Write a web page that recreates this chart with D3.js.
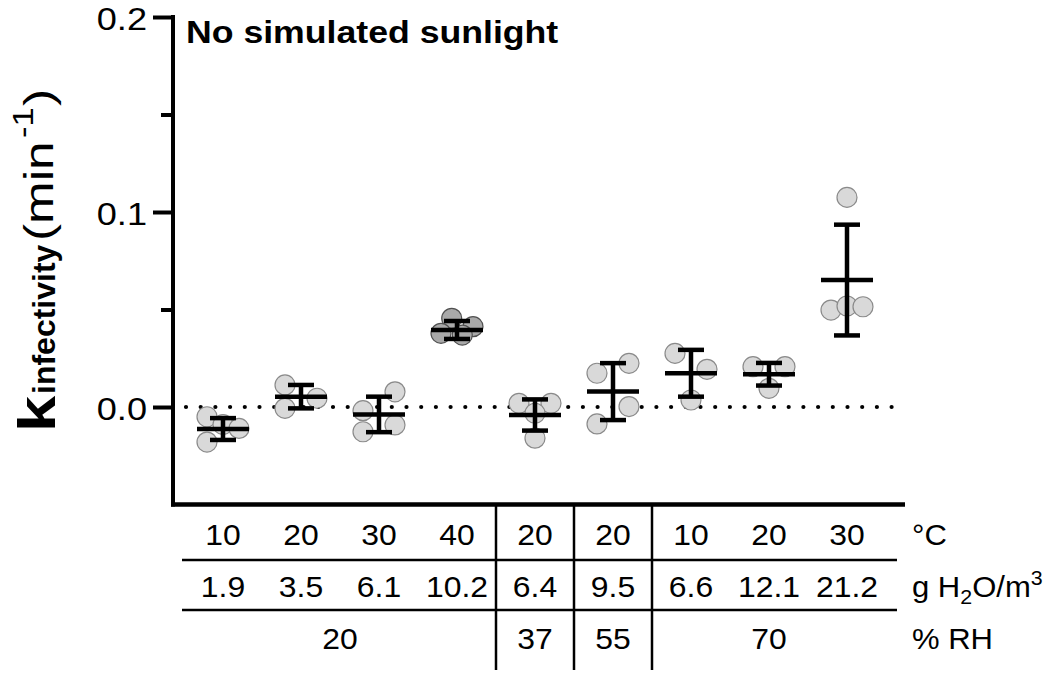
<!DOCTYPE html>
<html><head><meta charset="utf-8">
<script src="https://cdn.jsdelivr.net/npm/d3@7"></script>
<style>body{margin:0;background:#fff}</style>
</head><body>
<svg id="chart" width="1050" height="673"></svg>
<script>
// ---------- data ----------
const groupIds = [0,1,2,3,4,5,6,7,8];
const tempC      = ["10","20","30","40","20","20","10","20","30"];
const waterVapor = ["1.9","3.5","6.1","10.2","6.4","9.5","6.6","12.1","21.2"];
const rhLabels = ["20","37","55","70"];
const rhSpans  = [4,1,1,3];
// individual replicate rate constants (min^-1)
const replicateValues = [
  [-0.005,-0.009,-0.011,-0.018],
  [0.0113,0.0045,-0.0007],
  [0.0078,-0.0019,-0.0092,-0.0127],
  [0.0455,0.0412,0.0378,0.0369],
  [0.0019,0.0019,-0.0032,-0.016],
  [0.0224,0.0173,0.0002,-0.0087],
  [0.0275,0.0193,0.0036],
  [0.0207,0.0207,0.0096],
  [0.1075,0.0497,0.0518,0.0514]
];
// scatter column slot of each replicate (-1 left, 0 centre, 1 right)
const replicateSlots = [
  [-1,0,1,-1],
  [-1,1,-1],
  [1,-1,1,-1],
  [-0.33,1,-1,0.33],
  [-1,1,0,0],
  [1,-1,1,-1],
  [-1,1,0],
  [-1,1,0],
  [0,-1,0,1]
];
const groupMeans = [-0.0113,0.0053,-0.0038,0.0395,-0.0041,0.0079,0.0173,0.0168,0.0651];
const groupSD    = [0.0056,0.0060,0.0091,0.0046,0.0080,0.0146,0.0120,0.0058,0.0284];
const yMajorTicks = [0,0.1,0.2];
const yMinorTicks = [0.05,0.15];
const rowUnits = ["°C","g H2O/m3","% RH"];

// ---------- drawing ----------
const FONT = "'Liberation Sans', Arial, Helvetica, sans-serif";
const svg = d3.select("#chart").style("font-family", FONT);

// text helper: text placed at (x,y) and stretched horizontally by f
function label(parent, px, py, f, txt, opts = {}) {
  const t = parent.append("text")
    .attr("transform", `translate(${px},${py}) scale(${f},1)`)
    .attr("fill", "#000")
    .attr("font-size", opts.size || 28)
    .attr("font-weight", opts.weight || "normal")
    .attr("text-anchor", opts.anchor || "start");
  if (opts.dy) t.attr("dy", opts.dy);
  if (txt !== null) t.text(txt);
  return t;
}

const x = d3.scaleBand().domain(groupIds).range([184, 886]);
const y = d3.scaleLinear().domain([-0.05, 0.2]).range([504.5, 17]);
const cx = i => x(i) + x.bandwidth()/2;
const slotW = 16;

// zero reference line (dotted)
svg.append("line")
  .attr("x1", 186).attr("x2", 905)
  .attr("y1", y(0)).attr("y2", y(0))
  .attr("stroke", "#000").attr("stroke-width", 4.2)
  .attr("stroke-linecap", "round")
  .attr("stroke-dasharray", "0 14.7");

// replicate points
const pts = [];
replicateValues.forEach((vals, g) => vals.forEach((v, k) => pts.push({g, v, s: replicateSlots[g][k]})));
svg.append("g").selectAll("circle").data(pts).join("circle")
  .attr("cx", d => cx(d.g) + d.s * slotW)
  .attr("cy", d => y(d.v))
  .attr("r", 10)
  .attr("fill", d => d.g === 3 ? "#a9a9a9" : "#d9d9d9")
  .attr("stroke", d => d.g === 3 ? "#505050" : "#8a8a8a")
  .attr("stroke-width", 1.2);

// mean +/- SD
const eb = svg.append("g").attr("stroke", "#000").attr("stroke-width", 4.5);
groupIds.forEach(g => {
  const c = cx(g), m = groupMeans[g], s = groupSD[g];
  eb.append("line").attr("x1", c).attr("x2", c).attr("y1", y(m + s)).attr("y2", y(m - s));
  eb.append("line").attr("x1", c - 13).attr("x2", c + 13).attr("y1", y(m + s)).attr("y2", y(m + s));
  eb.append("line").attr("x1", c - 13).attr("x2", c + 13).attr("y1", y(m - s)).attr("y2", y(m - s));
  eb.append("line").attr("x1", c - 26).attr("x2", c + 26).attr("y1", y(m)).attr("y2", y(m));
});

// y axis
const axisX = 173;
const tickF = 1.13;
const ay = svg.append("g").attr("transform", `translate(${axisX},0)`)
  .call(d3.axisLeft(y).tickValues(yMajorTicks).tickSize(20).tickSizeOuter(0)
        .tickPadding(6).tickFormat(d3.format(".1f")));
ay.select(".domain").remove();
ay.selectAll(".tick line").attr("stroke", "#000").attr("stroke-width", 4);
ay.selectAll(".tick text").attr("font-size", 32).attr("font-family", FONT).attr("fill", "#000")
  .attr("x", -26 / tickF).attr("dy", "0.38em").attr("transform", `scale(${tickF},1)`);
const ayMinor = svg.append("g").attr("transform", `translate(${axisX},0)`)
  .call(d3.axisLeft(y).tickValues(yMinorTicks).tickSize(12).tickFormat(""));
ayMinor.select(".domain").remove();
ayMinor.selectAll(".tick line").attr("stroke", "#000").attr("stroke-width", 4);
svg.append("line").attr("x1", axisX).attr("x2", axisX).attr("y1", y(0.2) - 2).attr("y2", y(-0.05) + 2)
  .attr("stroke", "#000").attr("stroke-width", 4);
svg.append("line").attr("x1", axisX - 2).attr("x2", 905).attr("y1", y(-0.05)).attr("y2", y(-0.05))
  .attr("stroke", "#000").attr("stroke-width", 4.5);

// y label (rotated)
const yl = svg.append("g").attr("transform", `translate(55,428) rotate(-90)`);
label(yl, -4, 0, 1.25, "k", {size: 52, weight: "bold"});
label(yl, 34, 0, 1.0, "infectivity", {size: 32, weight: "bold"});
label(yl, 187, -2, 1.28, "(min", {size: 40});
label(yl, 290, -22, 1.15, "-1", {size: 30});
label(yl, 322, -2, 1.3, ")", {size: 40});

// title
label(svg, 186, 43, 1.15, "No simulated sunlight", {size: 31, weight: "bold"});

// condition table
const rowY = [535, 586.5, 639];
const TF = 1.1;
const tbl = svg.append("g");
groupIds.forEach(g => {
  label(tbl, cx(g), rowY[0], TF, tempC[g], {size: 29, anchor: "middle", dy: "0.36em"});
  label(tbl, cx(g), rowY[1], TF, waterVapor[g], {size: 29, anchor: "middle", dy: "0.36em"});
});
let start = 0;
const rhCenters = rhSpans.map(n => { const a = start, b = start + n - 1; start += n; return (cx(a) + cx(b)) / 2; });
rhLabels.forEach((d, i) => label(tbl, rhCenters[i], rowY[2], TF, d, {size: 29, anchor: "middle", dy: "0.36em"}));

// table rules
const lines = svg.append("g").attr("stroke", "#000").attr("stroke-width", 2.5);
[560, 610].forEach(yy => lines.append("line").attr("x1", 182).attr("x2", 897).attr("y1", yy).attr("y2", yy));
let acc = 0;
rhSpans.slice(0, -1).forEach(n => {
  acc += n;
  const xx = cx(acc - 1) + x.step() / 2;
  lines.append("line").attr("x1", xx).attr("x2", xx).attr("y1", 506).attr("y2", 670);
});

// row units
const ux = 912;
label(tbl, ux, rowY[0], 1.07, rowUnits[0], {size: 29, dy: "0.36em"});
const u2 = label(tbl, ux, rowY[1], 1.07, null, {size: 29, dy: "0.36em"});
u2.append("tspan").text("g H");
u2.append("tspan").attr("font-size", 20).attr("dy", 7).text("2");
u2.append("tspan").attr("dy", -7).text("O/m");
u2.append("tspan").attr("font-size", 20).attr("dy", -12).text("3");
label(tbl, ux, rowY[2], 1.07, rowUnits[2], {size: 29, dy: "0.36em"});
</script>
</body></html>
